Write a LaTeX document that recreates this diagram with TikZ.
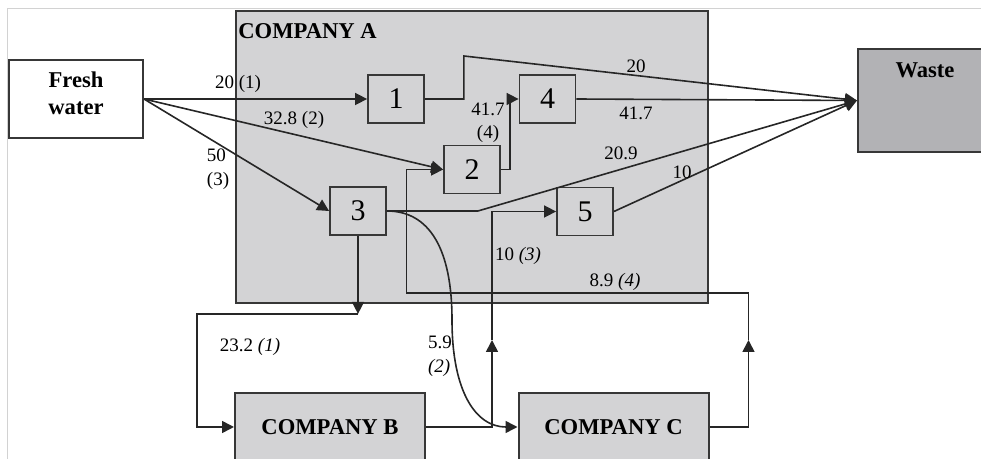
\documentclass[tikz,border=0pt]{standalone}
\usepackage{fontspec}
\setmainfont{Liberation Serif}
\usepackage{tikz}
\usetikzlibrary{arrows.meta}

\definecolor{boxgray}{RGB}{211,211,213}
\definecolor{wastegray}{RGB}{178,178,181}
\definecolor{edgegray}{RGB}{55,55,55}

\begin{document}
\begin{tikzpicture}[x=0.5pt, y=-0.5pt,
  area/.style={draw=edgegray, line width=1pt, fill=boxgray, minimum width=236pt, minimum height=146pt, inner sep=0pt},
  unit/.style={draw=edgegray, line width=0.9pt, fill=boxgray, minimum width=28pt, minimum height=24pt, inner sep=0pt, font=\fontsize{15}{15}\selectfont},
  company/.style={draw=edgegray, line width=1pt, fill=boxgray, minimum width=95pt, minimum height=34pt, inner sep=0pt, font=\fontsize{11.3}{13}\selectfont\bfseries},
  freshbox/.style={draw=edgegray, line width=1pt, fill=white, minimum width=67pt, minimum height=39pt, inner sep=0pt},
  wastebox/.style={draw=edgegray, line width=1pt, fill=wastegray, minimum width=66pt, minimum height=51.5pt, inner sep=0pt},
  title/.style={font=\fontsize{11.3}{13.5}\selectfont\bfseries, inner sep=0pt},
  lbl/.style={font=\fontsize{9.5}{11.75}\selectfont, inner sep=0pt},
  flow/.style={line width=0.8pt, draw=black!85, -{Triangle[length=6pt,width=6pt]}}]
  \useasboundingbox (0,0) rectangle (981,459);
  \clip (0,0) rectangle (981,459);

  % page frame
  \draw[gray!35, line width=0.5pt] (7,459) -- (7,9) -- (981,9);

  % Company A
  \node[area] (compA) at (472,157) {};
  \node[title, anchor=base west] (titleA) at (238,39) {COMPANY A};

  % fresh water and waste
  \node[freshbox] (fresh) at (76,99) {};
  \node[title, align=center] (freshtxt) at (76,93.5) {Fresh\\water};
  \node[wastebox] (waste) at (924,100.5) {};
  \node[title] (wastetxt) at (925,70) {Waste};

  % units of company A
  \node[unit] (u1) at (396,99) {1};
  \node[unit] (u2) at (472,169.5) {2};
  \node[unit] (u3) at (358,211) {3};
  \node[unit] (u4) at (547.5,99) {4};
  \node[unit] (u5) at (585,211.5) {5};

  % companies B and C
  \node[company] (compB) at (330,427) {COMPANY B};
  \node[company] (compC) at (613.5,427) {COMPANY C};

  % fresh water inlets
  \draw[flow] (fresh.east) -- (u1.west);
  \draw[flow] (fresh.east) -- (u2.west);
  \draw[flow] (fresh.east) -- (u3.west);

  % outlets to waste
  \draw[flow] (u1.east) -- ++(39,0) -- ++(0,-43) -- (waste.west);
  \draw[flow] (u4.east) -- (waste.west);
  \draw[flow] (u3.east) -- ++(91,0) -- (waste.west);
  \draw[flow] (u5.east) -- (waste.west);
  \draw[flow] (u2.east) -- ++(9,0) |- (u4.west);

  % exchange with companies B and C
  \path (u3.south) ++(0,78) coordinate (d3);
  \draw[flow] (u3.south) -- (d3);
  \draw[flow] (d3) -- ++(-161,0) |- (compB.west);
  \path (compB.east) ++(66,-87) coordinate (upB);
  \draw[flow] (compB.east) -| (upB);
  \draw[flow] (upB) |- (u5.west);
  \path (compC.east) ++(39,-87) coordinate (upC);
  \draw[flow] (compC.east) -| (upC);
  \draw[flow] (upC) |- ++(-342,-47) |- (u2.west);
  \draw[flow] (u3.east) .. controls (430,211) and (452,250) .. (452,320)
    .. controls (452,392) and (476,427) .. (compC.west);

  % flow labels
  \node[lbl] (l1) at (238,84) {20 (1)};
  \node[lbl] (l2) at (294,120) {32.8 (2)};
  \node[lbl, align=left] (l3) at (218,169) {50\\(3)};
  \node[lbl] (l4) at (636,66) {20};
  \node[lbl] (l5) at (636,113.5) {41.7};
  \node[lbl, align=center] (l6) at (488,123) {41.7\\(4)};
  \node[lbl] (l7) at (621,153.5) {20.9};
  \node[lbl] (l8) at (682,172.5) {10};
  \node[lbl] (l9) at (250,347) {23.2 \textit{(1)}};
  \node[lbl, align=left] (l10) at (440,356) {5.9\\\textit{(2)}};
  \node[lbl] (l11) at (518,256) {10 \textit{(3)}};
  \node[lbl] (l12) at (615,282) {8.9 \textit{(4)}};
\end{tikzpicture}
\end{document}
